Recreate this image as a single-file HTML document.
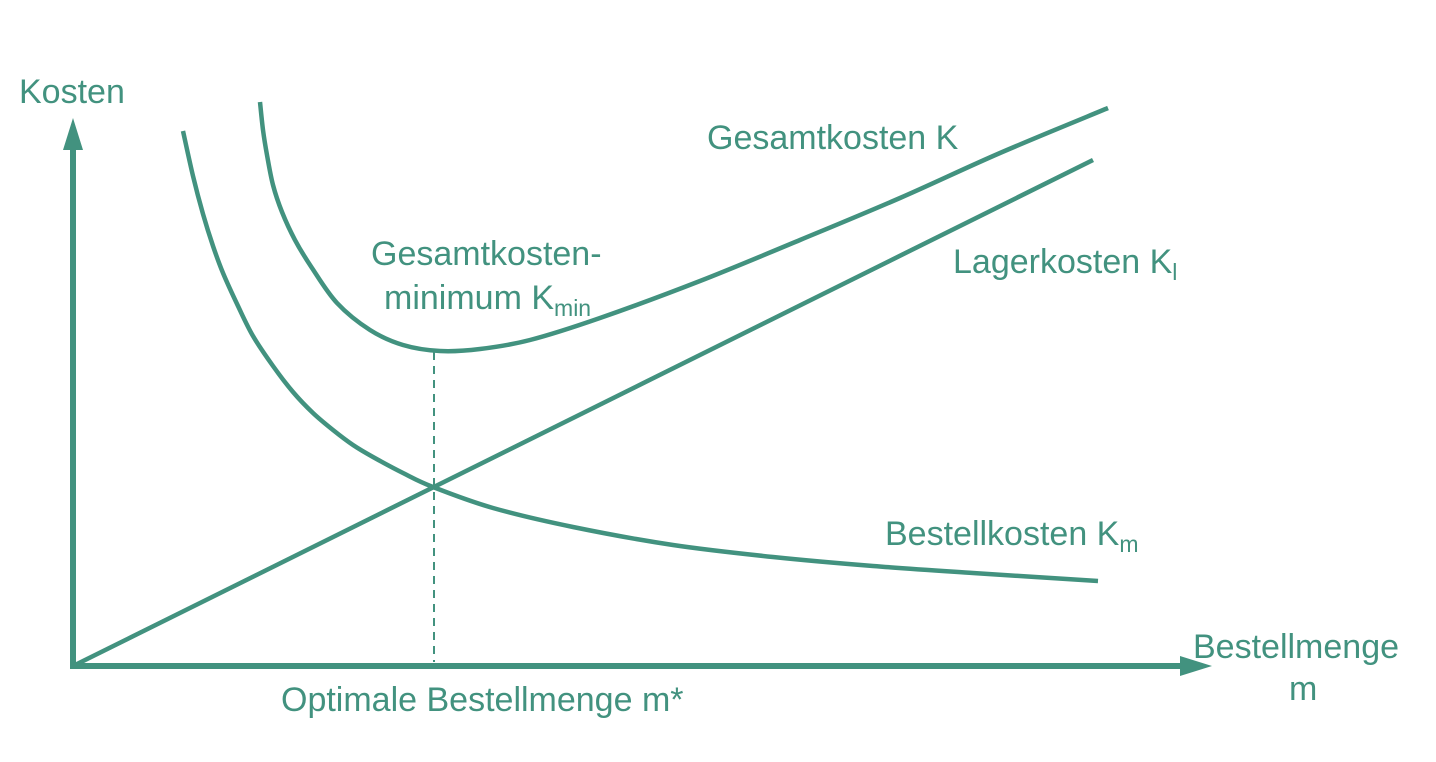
<!DOCTYPE html>
<html><head><meta charset="utf-8"><style>
html,body{margin:0;padding:0;background:#fff;}
svg{display:block;}
text{font-family:"Liberation Sans",Arial,sans-serif;fill:#42927f;font-size:34px;}
</style></head><body>
<svg id="chart" width="1436" height="762" viewBox="0 0 1436 762">
<g id="axes">
<line x1="73" y1="669" x2="73" y2="140" stroke="#42927f" stroke-width="6"/>
<polygon points="73,118 63,150 83,150" fill="#42927f"/>
<line x1="70" y1="666" x2="1190" y2="666" stroke="#42927f" stroke-width="6"/>
<polygon points="1212,666 1180,656 1180,676" fill="#42927f"/>
</g>
<g id="marks"></g>
<text x="19" y="103">Kosten</text>
<text x="707" y="149">Gesamtkosten K</text>
<text x="371" y="265">Gesamtkosten-</text>
<text x="384" y="309">minimum K<tspan font-size="23" dy="7">min</tspan></text>
<text x="953" y="273">Lagerkosten K<tspan font-size="23" dy="7">l</tspan></text>
<text x="885" y="545">Bestellkosten K<tspan font-size="23" dy="7">m</tspan></text>
<text x="1193" y="658">Bestellmenge</text>
<text x="1289" y="700">m</text>
<text x="281" y="711">Optimale Bestellmenge m*</text>
</svg>
<script>
const orderM = [11,12,13,14,15,16.5,18,20,22,24,26,28,30,33,36,42,50,60,70,80,90,102.5];
const orderCost = [53.5,49.0,45.2,42.0,39.3,36.0,33.0,30.0,27.4,25.3,23.6,22.1,20.9,19.3,17.9,15.8,13.9,12.1,10.9,10.0,9.3,8.5];
const storageM = [0,102];
const storageCost = [0,50.6];
const totalM = [18.7,19.0,19.4,20.0,20.9,22.2,23.9,26.4,29.7,33.0,36.7,40.7,45.7,52.7,62.7,72.7,82.7,92.7,103.5];
const totalCost = [56.4,53.6,51.1,48.1,45.4,42.6,39.8,36.3,33.6,32.1,31.5,31.7,32.6,34.8,38.5,42.6,46.8,51.3,55.8];
const optimumM = [36.1];
const optimumCost = [31.4];

const X0 = 73, Y0 = 666, SX = 10, SY = 10;
function xs(m){return X0 + m*SX;}
function ys(k){return Y0 - k*SY;}
const NS = "http://www.w3.org/2000/svg";
const g = document.getElementById('marks');
function smooth(mx, ky){
  const p = mx.map((m,i)=>[xs(m),ys(ky[i])]);
  let d = "M"+p[0][0]+","+p[0][1];
  for(let i=0;i<p.length-1;i++){
    const p0=p[i-1]||p[i], p1=p[i], p2=p[i+1], p3=p[i+2]||p2;
    const c1=[p1[0]+(p2[0]-p0[0])/6, p1[1]+(p2[1]-p0[1])/6];
    const c2=[p2[0]-(p3[0]-p1[0])/6, p2[1]-(p3[1]-p1[1])/6];
    d+=" C"+c1[0]+","+c1[1]+" "+c2[0]+","+c2[1]+" "+p2[0]+","+p2[1];
  }
  return d;
}
function addPath(d, name){
  const el=document.createElementNS(NS,'path');
  el.setAttribute('d',d);
  el.setAttribute('fill','none');
  el.setAttribute('stroke','#42927f');
  el.setAttribute('stroke-width','4.5');
  
  
  g.appendChild(el);
}
const dl=document.createElementNS(NS,'line');
dl.setAttribute('x1',xs(optimumM[0]));dl.setAttribute('x2',xs(optimumM[0]));
dl.setAttribute('y1',ys(optimumCost[0]));dl.setAttribute('y2',Y0-4);
dl.setAttribute('stroke','#42927f');dl.setAttribute('stroke-width','2');dl.setAttribute('stroke-dasharray','8,6');


g.appendChild(dl);
addPath(smooth(orderM, orderCost), 'bestellkosten-curve');
addPath("M"+xs(storageM[0])+","+ys(storageCost[0])+" L"+xs(storageM[1])+","+ys(storageCost[1]), 'lagerkosten-line');
addPath(smooth(totalM, totalCost), 'gesamtkosten-curve');
</script>
</body></html>
